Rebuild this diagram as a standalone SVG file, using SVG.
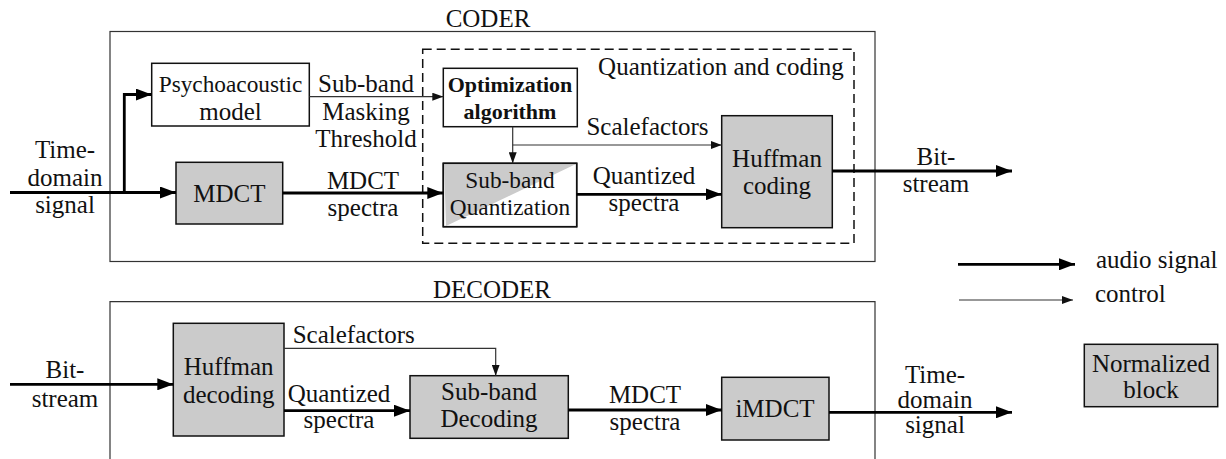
<svg xmlns="http://www.w3.org/2000/svg" width="1226" height="459" viewBox="0 0 1226 459" font-family="Liberation Serif, Tinos, Times New Roman, DejaVu Serif, serif">
<style>
text{font-family:'Liberation Serif',Tinos,'Times New Roman','DejaVu Serif',serif;font-size:25px;fill:#111}
.m{text-anchor:middle}
.b{font-weight:bold;font-size:22px}
.s{font-size:23.3px}
.box{fill:#fff;stroke:#111;stroke-width:1.5}
.g{fill:#cbcbcb;stroke:#111;stroke-width:1.5}
.frame{fill:none;stroke:#333;stroke-width:1.2}
.dash{fill:none;stroke:#111;stroke-width:1.5;stroke-dasharray:9 5}
.thick{fill:none;stroke:#000;stroke-width:2.8}
.thin{fill:none;stroke:#333;stroke-width:1.2}
</style>
<defs>
<marker id="ah" markerUnits="userSpaceOnUse" markerWidth="16" markerHeight="12" refX="16" refY="6" orient="auto"><path d="M0,0 L16,6 L0,12 z" fill="#000"/></marker>
<marker id="at" markerUnits="userSpaceOnUse" markerWidth="11" markerHeight="8" refX="11" refY="4" orient="auto"><path d="M0,0 L11,4 L0,8 z" fill="#111"/></marker>
</defs>

<g id="coder-frame">
<rect class="frame" x="110" y="31.5" width="765" height="230"/>
<text class="m" x="488" y="27">CODER</text>
</g>
<g id="qc-group">
<rect class="dash" x="422.7" y="49.3" width="431.3" height="194"/>
<text class="m" x="721" y="75">Quantization and coding</text>
</g>
<g id="decoder-frame">
<path class="frame" d="M110,470 V301.7 H875 V470"/>
<text class="m" x="492" y="298">DECODER</text>
</g>

<g id="psycho">
<rect class="box" x="151.7" y="63.3" width="157.6" height="62.7"/>
<text class="m s" x="230.5" y="92">Psychoacoustic</text>
<text class="m" x="230.5" y="119.5">model</text>
</g>
<g id="mdct">
<rect class="g" x="176" y="162.3" width="106.7" height="61.7"/>
<text class="m" x="229.3" y="201.5">MDCT</text>
</g>
<g id="optim">
<rect class="box" x="443.3" y="68.3" width="134" height="58.4"/>
<text class="m b" x="510" y="92">Optimization</text>
<text class="m b" x="510" y="118.5">algorithm</text>
</g>
<g id="subquant">
<rect class="box" x="443.3" y="163.3" width="133.4" height="63.4"/>
<polygon points="444,164 576,164 446,226" fill="#cbcbcb"/>
<rect x="443.3" y="163.3" width="133.4" height="63.4" fill="none" stroke="#111" stroke-width="1.5"/>
<text class="m s" x="510" y="188.3">Sub-band</text>
<text class="m s" x="510" y="215">Quantization</text>
</g>
<g id="huffcod">
<rect class="g" x="721.7" y="115.7" width="110.6" height="112"/>
<text class="m" x="777" y="167">Huffman</text>
<text class="m" x="777" y="193.5">coding</text>
</g>

<g id="huffdec">
<rect class="g" x="173.3" y="323.3" width="110.7" height="112.7"/>
<text class="m" x="228.7" y="375">Huffman</text>
<text class="m" x="228.7" y="403">decoding</text>
</g>
<g id="subdec">
<rect class="g" x="410" y="375.7" width="158.3" height="62.6"/>
<text class="m" x="489" y="400">Sub-band</text>
<text class="m" x="489" y="426.7">Decoding</text>
</g>
<g id="imdct">
<rect class="g" x="721.7" y="377.3" width="107.3" height="62.7"/>
<text class="m" x="775" y="417">iMDCT</text>
</g>
<g id="legend-norm">
<rect class="g" x="1084.3" y="344.3" width="133.4" height="62.4"/>
<text class="m" x="1151" y="372">Normalized</text>
<text class="m" x="1151" y="398">block</text>
</g>

<g id="connectors">
<path class="thick" d="M10,192.5 H176" marker-end="url(#ah)"/>
<path class="thick" d="M124.3,192.5 V94.5 H151.7" marker-end="url(#ah)"/>
<path class="thin" d="M309.3,96.7 H443.3" marker-end="url(#at)"/>
<path class="thick" d="M282.7,193 H443.3" marker-end="url(#ah)"/>
<path class="thin" d="M512.7,126.7 V163.3" marker-end="url(#at)"/>
<path class="thin" d="M512.7,145 H721.7" marker-end="url(#at)"/>
<path class="thick" d="M576.7,194.3 H721.7" marker-end="url(#ah)"/>
<path class="thick" d="M832.3,171 H1012" marker-end="url(#ah)"/>
<path class="thick" d="M958,264.3 H1075" marker-end="url(#ah)"/>
<path class="thin" d="M959,300 H1073" marker-end="url(#at)"/>
<path class="thick" d="M10,384.3 H173.3" marker-end="url(#ah)"/>
<path class="thin" d="M284,348.3 H495.7 V375.7" marker-end="url(#at)"/>
<path class="thick" d="M284,410.7 H410" marker-end="url(#ah)"/>
<path class="thick" d="M568.3,410 H721.7" marker-end="url(#ah)"/>
<path class="thick" d="M829,412.3 H1012" marker-end="url(#ah)"/>
</g>

<g id="labels">
<text class="m" x="65" y="158">Time-</text>
<text class="m" x="65" y="186">domain</text>
<text class="m" x="65" y="213">signal</text>
<text class="m" x="366" y="92">Sub-band</text>
<text class="m" x="366" y="119.5">Masking</text>
<text class="m" x="366" y="147">Threshold</text>
<text class="m" x="363" y="189">MDCT</text>
<text class="m" x="363" y="216">spectra</text>
<text class="m" x="647.5" y="135">Scalefactors</text>
<text class="m" x="644" y="184">Quantized</text>
<text class="m" x="644" y="211">spectra</text>
<text class="m" x="936" y="165">Bit-</text>
<text class="m" x="936" y="192">stream</text>
<text x="1096" y="268">audio signal</text>
<text x="1095" y="302">control</text>
<text class="m" x="65" y="378">Bit-</text>
<text class="m" x="65" y="406.7">stream</text>
<text x="292.7" y="343">Scalefactors</text>
<text class="m" x="339" y="401.7">Quantized</text>
<text class="m" x="339" y="428.3">spectra</text>
<text class="m" x="645" y="403">MDCT</text>
<text class="m" x="645" y="430">spectra</text>
<text class="m" x="935" y="383">Time-</text>
<text class="m" x="935" y="408">domain</text>
<text class="m" x="935" y="433">signal</text>
</g>
</svg>
